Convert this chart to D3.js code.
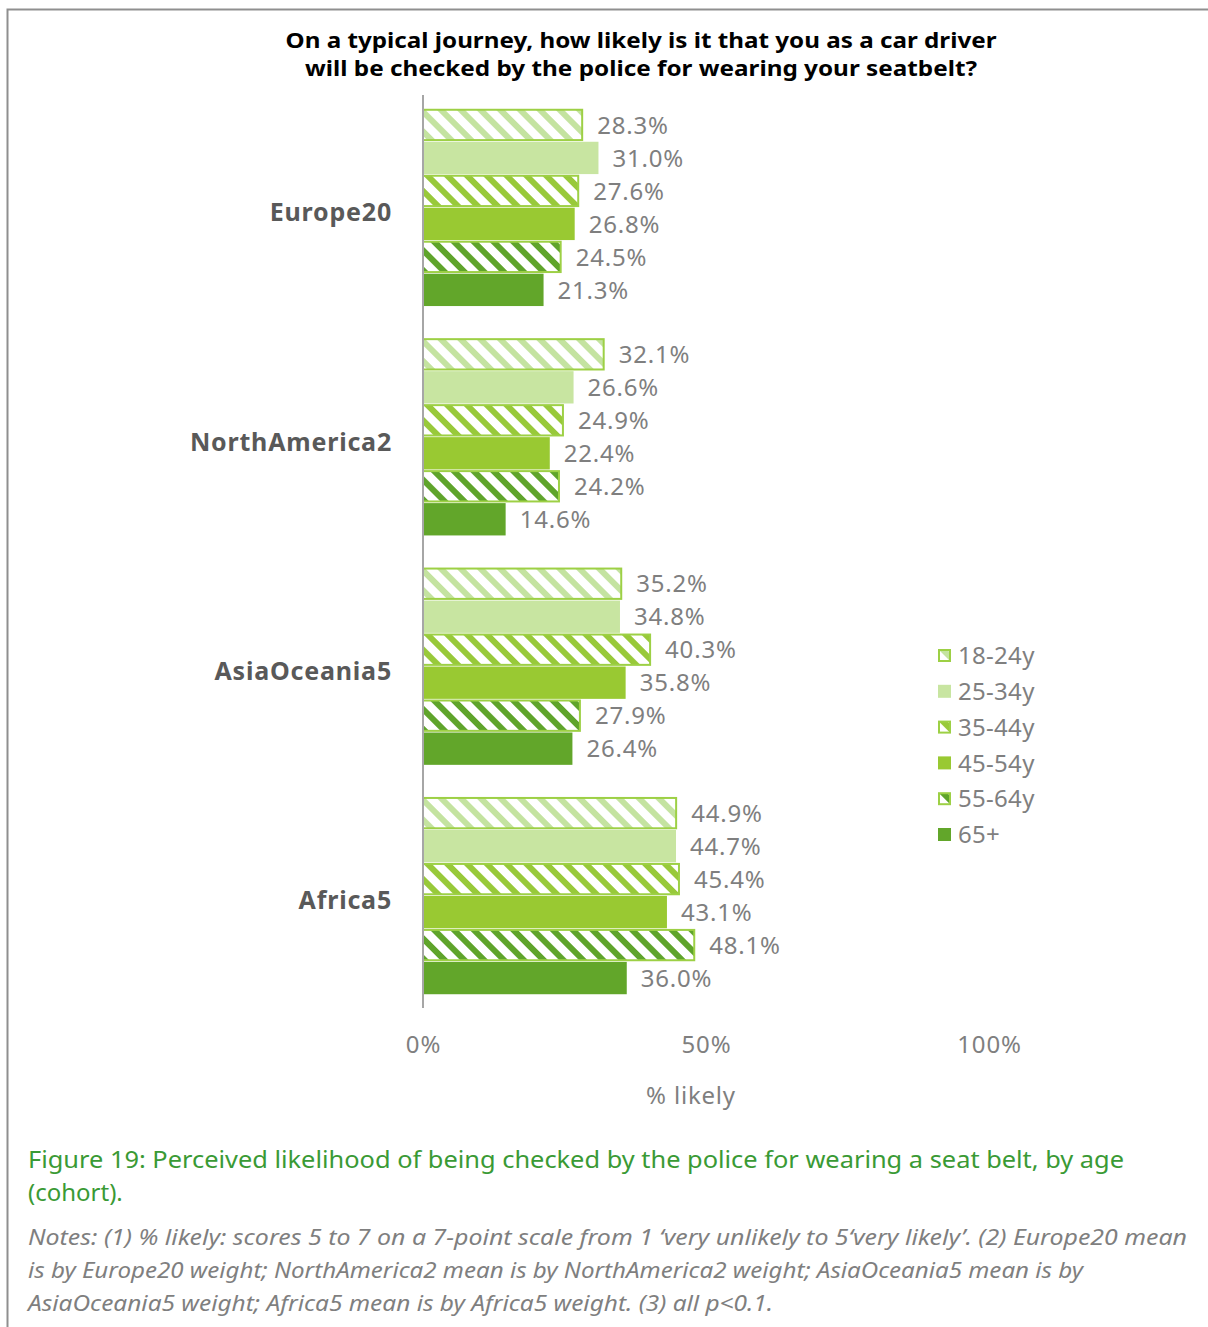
<!DOCTYPE html>
<html>
<head>
<meta charset="utf-8">
<script src="https://cdn.jsdelivr.net/npm/d3@7/dist/d3.min.js"></script>
<style>
  html, body { margin: 0; padding: 0; background: #fff; }
  svg { display: block; }
</style>
</head>
<body>
<svg id="chart" width="1208" height="1327"></svg>
<script>
// ---------------- DATA ----------------
const regions = ["Europe20", "NorthAmerica2", "AsiaOceania5", "Africa5"];
const ageGroups = ["18-24y", "25-34y", "35-44y", "45-54y", "55-64y", "65+"];
const values18_24 = [28.3, 32.1, 35.2, 44.9];
const values25_34 = [31.0, 26.6, 34.8, 44.7];
const values35_44 = [27.6, 24.9, 40.3, 45.4];
const values45_54 = [26.8, 22.4, 35.8, 43.1];
const values55_64 = [24.5, 24.2, 27.9, 48.1];
const values65p   = [21.3, 14.6, 26.4, 36.0];
const xTickValues = [0, 50, 100];
const titleLines = [
  "On a typical journey, how likely is it that you as a car driver",
  "will be checked by the police for wearing your seatbelt?"
];
const axisTitle = "% likely";
const captionLines = [
  "Figure 19: Perceived likelihood of being checked by the police for wearing a seat belt, by age",
  "(cohort)."
];
const noteLines = [
  "Notes: (1) % likely: scores 5 to 7 on a 7-point scale from 1 \u2018very unlikely to 5\u2018very likely\u2019. (2) Europe20 mean",
  "is by Europe20 weight; NorthAmerica2 mean is by NorthAmerica2 weight; AsiaOceania5 mean is by",
  "AsiaOceania5 weight; Africa5 mean is by Africa5 weight. (3) all p<0.1."
];

// series table built from arrays
const seriesValues = [values18_24, values25_34, values35_44, values45_54, values55_64, values65p];
const series = ageGroups.map((g, i) => ({ key: g, values: seriesValues[i] }));

// styles
const styles = {
  "18-24y": { hatch: true, color: "#c4e3a0" },
  "25-34y": { hatch: false, color: "#c8e5a1" },
  "35-44y": { hatch: true, color: "#98c93a" },
  "45-54y": { hatch: false, color: "#99c932" },
  "55-64y": { hatch: true, color: "#5fa42b" },
  "65+":    { hatch: false, color: "#62a62a" }
};
const hatchBorder = "#9dd045";
const font = "'Noto Sans', 'DejaVu Sans', sans-serif";
const grey = "#7f7f7f";

const svg = d3.select("#chart");
const defs = svg.append("defs");

ageGroups.forEach((g, i) => {
  const st = styles[g];
  if (!st.hatch) return;
  const p = defs.append("pattern")
    .attr("id", "hatch" + i)
    .attr("patternUnits", "userSpaceOnUse")
    .attr("width", 14).attr("height", 14)
    .attr("patternTransform", "rotate(-45)");
  p.append("rect").attr("width", 14).attr("height", 14).attr("fill", "#fff");
  p.append("rect").attr("x", 0).attr("width", 6).attr("height", 14).attr("fill", st.color);
});
function fillFor(g) {
  const i = ageGroups.indexOf(g);
  return styles[g].hatch ? `url(#hatch${i})` : styles[g].color;
}

// frame border
svg.append("path")
  .attr("d", "M7.5,1327 V9.5 H1208")
  .attr("fill", "none").attr("stroke", "#8f8f8f").attr("stroke-width", 2);

// title
svg.append("g").selectAll("text").data(titleLines).join("text")
  .attr("x", 641).attr("y", (d, i) => 48 + i * 28)
  .attr("text-anchor", "middle")
  .attr("font-family", font).attr("font-weight", "bold").attr("font-size", 22)
  .attr("fill", "#000")
  .attr("textLength", (d, i) => i === 0 ? 711 : 672)
  .attr("lengthAdjust", "spacingAndGlyphs")
  .text(d => d);

// scales
const x = d3.scaleLinear().domain([0, 100]).range([423, 989]);
const y0 = d3.scaleBand().domain(regions).range([95, 1008]).paddingInner(0.14).paddingOuter(0.06);
const y1 = d3.scaleBand().domain(ageGroups).range([0, y0.bandwidth()]).paddingInner(0.02);

// bars
const gBars = svg.append("g");
regions.forEach((r, ri) => {
  const g = gBars.append("g").attr("transform", `translate(0,${y0(r)})`);
  series.forEach(s => {
    const st = styles[s.key];
    const v = s.values[ri];
    g.append("rect")
      .attr("x", x(0))
      .attr("y", y1(s.key) + (st.hatch ? 1 : 0))
      .attr("width", x(v) - x(0) - (st.hatch ? 1 : 0))
      .attr("height", y1.bandwidth() - (st.hatch ? 2 : 0))
      .attr("fill", fillFor(s.key))
      .attr("stroke", st.hatch ? hatchBorder : "none")
      .attr("stroke-width", st.hatch ? 2 : 0);
    g.append("text")
      .attr("x", x(v) + 14)
      .attr("y", y1(s.key) + y1.bandwidth() / 2)
      .attr("dy", "0.36em")
      .attr("font-family", font).attr("font-size", 24)
      .attr("letter-spacing", 0.8)
      .attr("fill", grey)
      .text(v.toFixed(1) + "%");
  });
});

// y axis
const yAxis = svg.append("g").attr("transform", `translate(${x(0)},0)`)
  .call(d3.axisLeft(y0).tickSize(0).tickPadding(31));
yAxis.select(".domain").remove();
yAxis.append("line").attr("x1", 0).attr("x2", 0).attr("y1", 95).attr("y2", 1008)
  .attr("stroke", "#a6a6a6").attr("stroke-width", 2);
yAxis.selectAll(".tick text")
  .attr("font-family", font).attr("font-weight", "bold").attr("font-size", 25)
  .attr("letter-spacing", 0.8)
  .attr("dy", "0.55em")
  .attr("fill", "#595959");

// x axis
const xAxis = svg.append("g").attr("transform", "translate(0,1008)")
  .call(d3.axisBottom(x).tickValues(xTickValues).tickFormat(d => d + "%").tickSize(0).tickPadding(28));
xAxis.select(".domain").remove();
xAxis.selectAll(".tick text")
  .attr("font-family", font).attr("font-size", 24).attr("letter-spacing", 0.8).attr("fill", grey);

svg.append("text")
  .attr("x", 691).attr("y", 1104)
  .attr("text-anchor", "middle")
  .attr("font-family", font).attr("font-size", 24).attr("letter-spacing", 0.8).attr("fill", grey)
  .text(axisTitle);

// legend
const legend = svg.append("g").attr("transform", "translate(938,649)");
ageGroups.forEach((g, i) => {
  const st = styles[g];
  const row = legend.append("g").attr("transform", `translate(0,${i * 35.8})`);
  row.append("rect")
    .attr("x", st.hatch ? 1 : 0).attr("y", st.hatch ? 1 : 0)
    .attr("width", st.hatch ? 11 : 13).attr("height", st.hatch ? 11 : 13)
    .attr("fill", fillFor(g))
    .attr("stroke", st.hatch ? hatchBorder : "none")
    .attr("stroke-width", st.hatch ? 2 : 0);
  row.append("text")
    .attr("x", 20).attr("y", 6.5).attr("dy", "0.36em")
    .attr("font-family", font).attr("font-size", 24).attr("letter-spacing", 0.3).attr("fill", grey)
    .text(g);
});

// caption
svg.append("g").selectAll("text").data(captionLines).join("text")
  .attr("x", 28).attr("y", (d, i) => 1168 + i * 33)
  .attr("font-family", font).attr("font-size", 24).attr("fill", "#3a9a35")
  .attr("textLength", (d, i) => i === 0 ? 1096 : null)
  .attr("lengthAdjust", "spacingAndGlyphs")
  .text(d => d);

// notes
svg.append("g").selectAll("text").data(noteLines).join("text")
  .attr("x", 28).attr("y", (d, i) => 1245 + i * 33)
  .attr("font-family", font).attr("font-style", "italic").attr("font-size", 22).attr("fill", grey)
  .attr("textLength", (d, i) => [1159, 1055, 745][i])
  .attr("lengthAdjust", "spacingAndGlyphs")
  .text(d => d);
</script>
</body>
</html>
